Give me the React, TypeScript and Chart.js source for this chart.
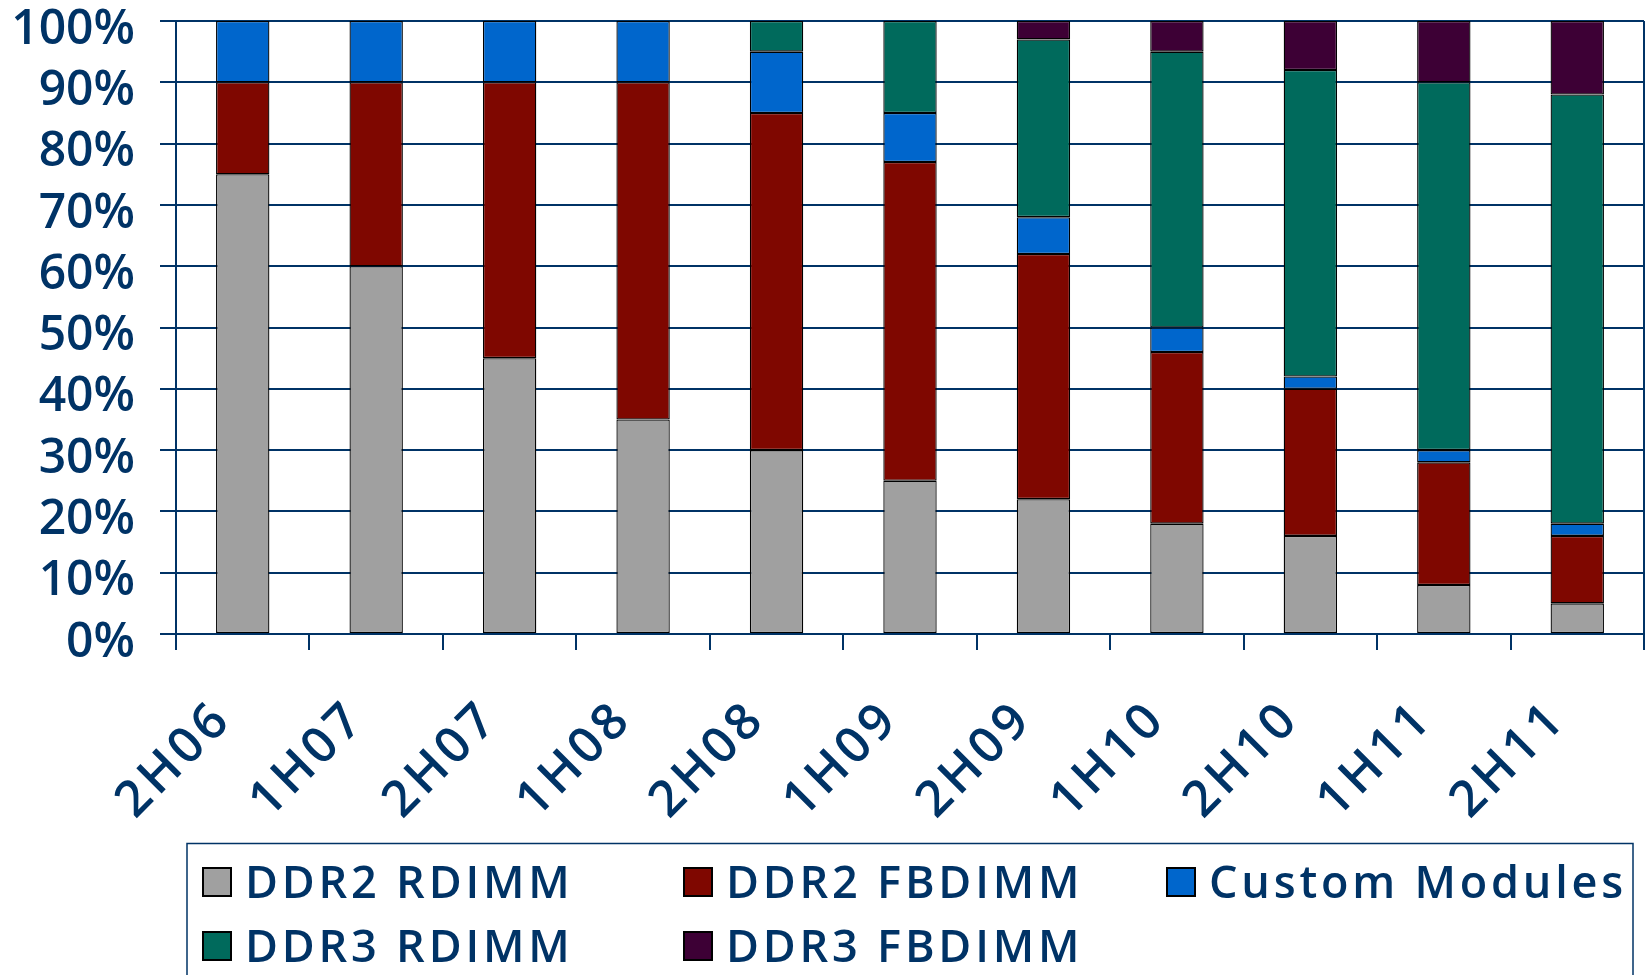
import React, { useEffect, useRef } from 'react';
import { Chart, registerables } from 'chart.js';

Chart.register(...registerables);

const categories = ['2H06', '1H07', '2H07', '1H08', '2H08', '1H09', '2H09', '1H10', '2H10', '1H11', '2H11'];
const seriesNames = ['DDR2 RDIMM', 'DDR2 FBDIMM', 'Custom Modules', 'DDR3 RDIMM', 'DDR3 FBDIMM'];
const ddr2Rdimm = [75, 60, 45, 35, 30, 25, 22, 18, 16, 8, 5];
const ddr2Fbdimm = [15, 30, 45, 55, 55, 52, 40, 28, 24, 20, 11];
const customModules = [10, 10, 10, 10, 10, 8, 6, 4, 2, 2, 2];
const ddr3Rdimm = [0, 0, 0, 0, 5, 15, 29, 45, 50, 60, 70];
const ddr3Fbdimm = [0, 0, 0, 0, 0, 0, 3, 5, 8, 10, 12];
const seriesColors = ['#A0A0A0', '#7F0700', '#0066CC', '#006A5C', '#3D0035'];

const NAVY = '#003366';
const FONT = '"Open Sans", "Noto Sans", sans-serif';

// letter spacing for x-axis labels (drawn in layers with z <= 0, before datasets)
const spacingPlugin = {
  id: 'xLabelSpacing',
  beforeDraw(chart: any) {
    (chart.ctx as any).letterSpacing = '4px';
  },
  beforeDatasetsDraw(chart: any) {
    (chart.ctx as any).letterSpacing = '0px';
  },
};

const legendPlugin = {
  id: 'gridLegend',
  afterDraw(chart: any) {
    const ctx = chart.ctx as CanvasRenderingContext2D;
    ctx.save();
    ctx.strokeStyle = NAVY;
    ctx.lineWidth = 1.5;
    ctx.strokeRect(187, 843.5, 1446, 200);
    const cols = [202, 683, 1166];
    const rows = [867, 931];
    chart.data.datasets.forEach((ds: any, i: number) => {
      const col = i % 3;
      const row = Math.floor(i / 3);
      const x = cols[col];
      const y = rows[row];
      ctx.fillStyle = ds.backgroundColor;
      ctx.fillRect(x, y, 30, 30);
      ctx.strokeStyle = '#000';
      ctx.lineWidth = 2;
      ctx.strokeRect(x + 1, y + 1, 28, 28);
      ctx.fillStyle = NAVY;
      ctx.font = `600 45px ${FONT}`;
      (ctx as any).letterSpacing = '3.8px';
      ctx.textBaseline = 'alphabetic';
      ctx.textAlign = 'left';
      ctx.fillText(ds.label, x + 43, y + 31);
    });
    (ctx as any).letterSpacing = '0px';
    ctx.restore();
  },
};

export default function App() {
  const canvasRef = useRef<HTMLCanvasElement | null>(null);

  useEffect(() => {
    const canvas = canvasRef.current;
    if (!canvas) return;
    const series = [ddr2Rdimm, ddr2Fbdimm, customModules, ddr3Rdimm, ddr3Fbdimm];
    const chart = new Chart(canvas, {
      type: 'bar',
      data: {
        labels: categories,
        datasets: series.map((vals, i) => ({
          label: seriesNames[i],
          data: vals.map((v) => (v === 0 ? null : v)),
          backgroundColor: seriesColors[i],
          borderColor: '#000000',
          borderWidth: 1.3,
          borderSkipped: false,
          barPercentage: 0.4,
          categoryPercentage: 1,
        })),
      },
      options: {
        responsive: false,
        animation: false,
        devicePixelRatio: 1,
        layout: { padding: { top: 21, right: 2, left: 0, bottom: 0 } },
        plugins: {
          legend: { display: false },
          tooltip: { enabled: false },
          title: { display: false },
        },
        scales: {
          x: {
            stacked: true,
            offset: true,
            grid: {
              offset: true,
              drawOnChartArea: true,
              color: (c: any) => (c.type === 'scale' ? NAVY : 'rgba(0,0,0,0)'),
              tickColor: NAVY,
              lineWidth: 2,
              tickWidth: 2,
              tickLength: 16,
            },
            border: { display: true, color: NAVY, width: 2 },
            ticks: {
              autoSkip: false,
              minRotation: 45,
              maxRotation: 45,
              padding: 40,
              labelOffset: -19,
              color: NAVY,
              z: 0,
              font: { family: FONT, size: 50, weight: '600' },
            },
            afterFit: (s: any) => {
              s.height = 341;
              s.paddingLeft = 0;
              s.paddingRight = 0;
            },
          },
          y: {
            stacked: true,
            min: 0,
            max: 100,
            grid: {
              color: NAVY,
              lineWidth: 2,
              tickLength: 16,
              z: 0,
            },
            border: { display: true, color: NAVY, width: 2 },
            ticks: {
              stepSize: 10,
              padding: 25,
              labelOffset: 9,
              color: NAVY,
              z: 1,
              font: { family: FONT, size: 48, weight: '600' },
              callback: (v: any) => `${v}%`,
            },
            afterFit: (s: any) => {
              s.width = 176;
              s.paddingTop = 0;
              s.paddingBottom = 0;
            },
          },
        },
      },
      plugins: [spacingPlugin, legendPlugin],
    });
    return () => chart.destroy();
  }, []);

  return (
    <div style={{ position: 'absolute', left: 0, top: 0, width: 1646, height: 975, background: '#fff', overflow: 'hidden' }}>
      <canvas ref={canvasRef} width={1646} height={975} style={{ width: 1646, height: 975, display: 'block' }} />
    </div>
  );
}
